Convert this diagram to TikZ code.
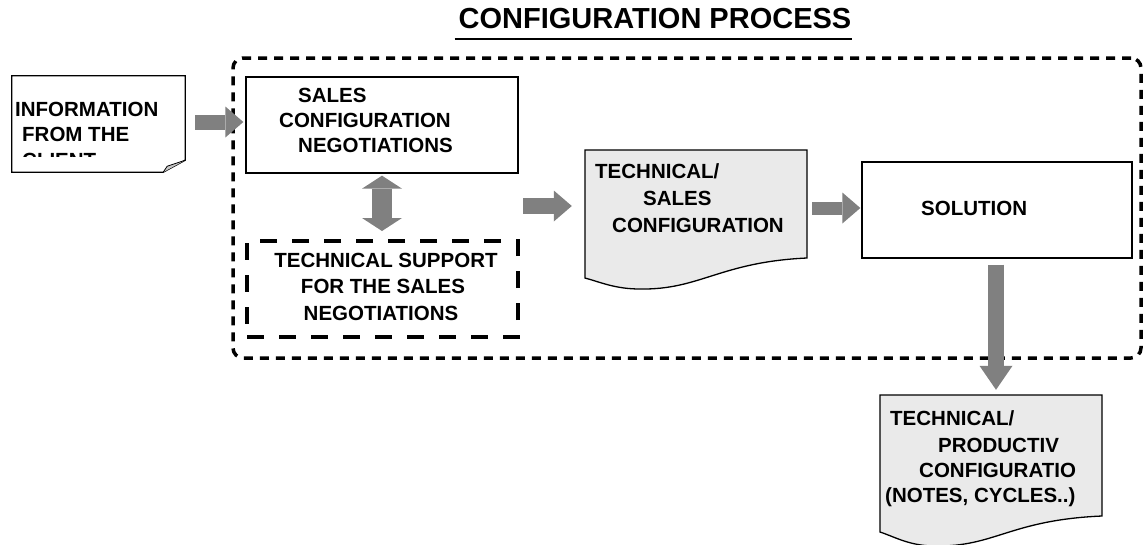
\documentclass[tikz,border=0pt]{standalone}
\usepackage{fontspec}
\setmainfont{Liberation Sans}
\usetikzlibrary{arrows.meta}
\definecolor{arrowgray}{HTML}{808080}
\definecolor{docgray}{HTML}{EAEAEA}
\definecolor{foldgray}{HTML}{C8C8C8}

\begin{document}
\begin{tikzpicture}[x=1pt, y=-1pt,
    outline/.style={draw=black, line width=1.3pt},
    box/.style={outline, rectangle, inner sep=0pt, fill=white},
    ghost/.style={rectangle, inner sep=0pt},
    lbl/.style={anchor=base west, inner sep=0pt, font=\fontsize{20.5}{24}\selectfont\bfseries},
    clbl/.style={lbl, anchor=base},
    fatarrow/.style={draw=arrowgray, line width=15pt,
      -{Triangle[length=18pt,width=31pt,line width=0pt,fill=arrowgray]}}
  ]
  \useasboundingbox (0,0) rectangle (1144,544);

  % title
  \node[font=\fontsize{29}{34}\selectfont\bfseries, anchor=base, inner sep=0pt] (title) at (655,28) {CONFIGURATION PROCESS};
  \draw[line width=2pt] ([xshift=-4pt,yshift=-11pt]title.base west) -- ([yshift=-11pt]title.base east);

  % configuration area
  \node[draw, line width=3.5pt, dash pattern=on 9pt off 7pt, rounded corners=10pt,
        minimum width=908pt, minimum height=300pt, inner sep=0pt] (area) at (687,208) {};

  % information from the client
  \node[ghost, minimum width=173pt, minimum height=96pt] (info) at (98.5,124) {};
  \draw[outline, fill=white] (info.north west) -- (info.north east) -- ([yshift=12pt]info.south east)
        -- ([xshift=-22pt]info.south east) -- (info.south west) -- cycle;
  \draw[outline, line width=0.8pt, fill=foldgray] ([yshift=12pt]info.south east)
        -- ([xshift=-18pt,yshift=6pt]info.south east) -- ([xshift=-22pt]info.south east);
  \node[lbl] (info1) at (15,116) {INFORMATION};
  \node[lbl] (info2) at (22,141) {FROM THE};
  \begin{scope}
    \clip (info.north west) rectangle ([yshift=16pt]info.south east);
    \node[lbl] (info3) at (22,167) {CLIENT};
  \end{scope}

  % sales configuration negotiations
  \node[box, minimum width=272pt, minimum height=96pt] (sales) at (382,125) {};
  \node[lbl] (sales1) at (298,102) {SALES};
  \node[lbl] (sales2) at (279,127) {CONFIGURATION};
  \node[lbl] (sales3) at (298,152) {NEGOTIATIONS};

  % technical support
  \node[box, line width=4pt, dash pattern=on 17pt off 15pt, minimum width=271pt, minimum height=96pt] (support) at (382.5,289) {};
  \node[clbl] (sup1) at (386,267) {TECHNICAL SUPPORT};
  \node[clbl] (sup2) at (383,293) {FOR THE SALES};
  \node[clbl] (sup3) at (381,320) {NEGOTIATIONS};

  % technical/sales configuration
  \node[ghost, minimum width=222pt, minimum height=128pt] (techsales) at (696,214) {};
  \draw[outline, fill=docgray] (585,150) -- (807,150) -- (807,258)
        .. controls (720,262) and (700,290) .. (640,289)
        .. controls (615,289) and (600,282) .. (585,278) -- cycle;
  \node[lbl] (ts1) at (595,178) {TECHNICAL/};
  \node[lbl] (ts2) at (643,205) {SALES};
  \node[lbl] (ts3) at (612,232) {CONFIGURATION};

  % solution
  \node[box, minimum width=270pt, minimum height=96pt] (solution) at (997,210) {};
  \node[lbl] (sol1) at (921,215) {SOLUTION};

  % technical/productive configuration
  \node[ghost, minimum width=222pt, minimum height=137pt] (prodconf) at (991,463.5) {};
  \draw[outline, fill=docgray] (880,395) -- (1102,395) -- (1102,516)
        .. controls (1010,520) and (995,547) .. (935,546)
        .. controls (910,546) and (895,537) .. (880,532) -- cycle;
  \node[lbl] (pc1) at (890,425) {TECHNICAL/};
  \node[lbl] (pc2) at (938,452) {PRODUCTIV};
  \node[lbl] (pc3) at (919,477) {CONFIGURATIO};
  \node[lbl] (pc4) at (885,502) {(NOTES, CYCLES..)};

  % arrows
  \draw[fatarrow, shorten <=10pt, shorten >=2pt] ([yshift=2pt]info.east) -- ([yshift=2pt]info.east -| sales.west);
  \draw[draw=arrowgray, line width=20pt,
        {Triangle[length=13pt,width=40pt,line width=0pt,fill=arrowgray]}-{Triangle[length=13pt,width=40pt,line width=0pt,fill=arrowgray]},
        shorten <=2pt, shorten >=8pt] (sales.south) -- (sales.south |- support.north);
  \coordinate (a2s) at (523,206);
  \draw[fatarrow, line width=16pt, shorten >=13pt] (a2s) -- (a2s -| techsales.west);
  \draw[fatarrow, line width=13pt, shorten <=5pt, shorten >=1pt] ([yshift=2pt]solution.west -| techsales.east) -- ([yshift=2pt]solution.west);
  \draw[fatarrow, line width=16pt, -{Triangle[length=24pt,width=33pt,line width=0pt,fill=arrowgray]},
        shorten <=6pt, shorten >=5pt] ([xshift=-1pt]solution.south) -- ([xshift=-1pt]solution.south |- prodconf.north);
\end{tikzpicture}
\end{document}
